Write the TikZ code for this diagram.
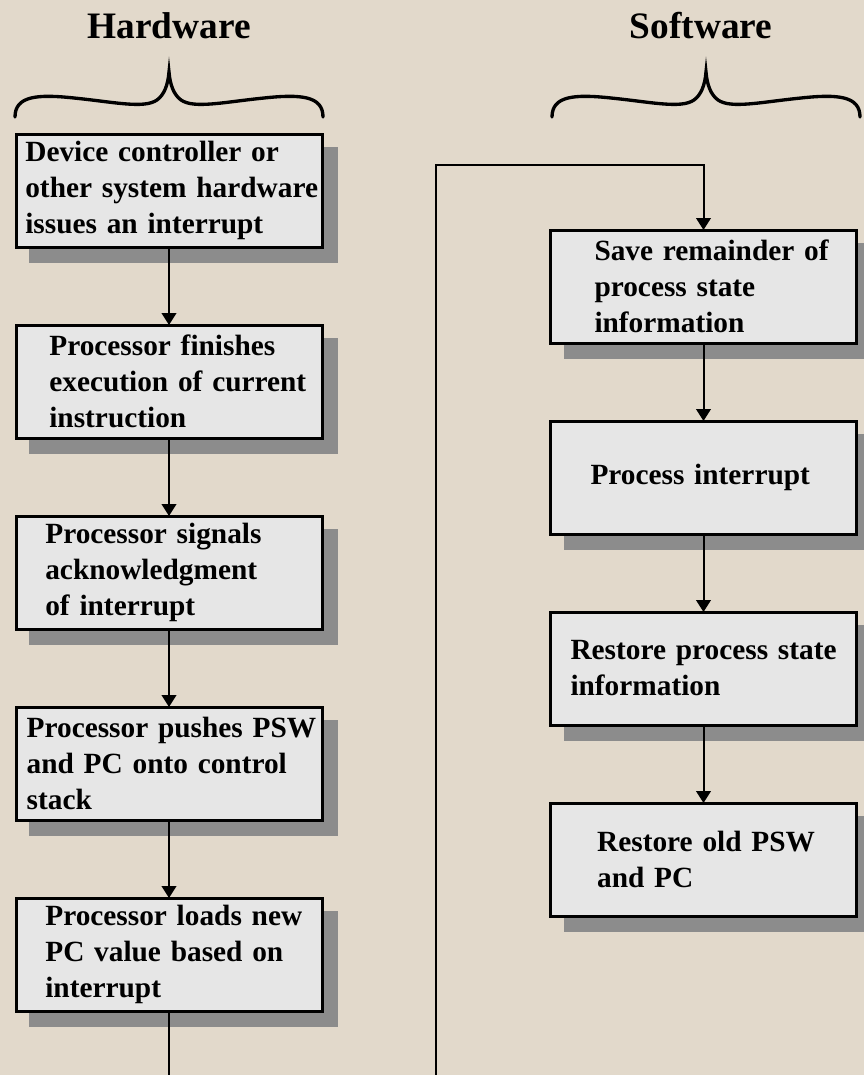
\documentclass[tikz,border=0pt]{standalone}
\usepackage{fontspec}
\setmainfont{Liberation Serif}
\usetikzlibrary{positioning,shadows,arrows.meta}
\definecolor{paper}{RGB}{226,217,203}
\definecolor{boxfill}{RGB}{230,230,230}
\definecolor{shadowgray}{RGB}{140,140,140}
\begin{document}
\begin{tikzpicture}
	[x=0.75pt,y=-0.75pt,
	node distance=58.5pt,
	stepbox/.style={draw,line width=2.25pt,fill=boxfill,outer sep=0pt,inner xsep=0pt,
		minimum height=84.75pt,text width=229.5pt,align=left,
		font=\bfseries\fontsize{22}{27}\selectfont,
		drop shadow={shadow xshift=11pt,shadow yshift=-11pt,fill=shadowgray,draw=shadowgray,opacity=1}},
	lead/.style={execute at begin node={\leftskip=#1\relax}},
	title/.style={font=\bfseries\fontsize{28}{34}\selectfont,anchor=base},
	link/.style={line width=1.5pt,-{Triangle[width=11pt,length=9pt]}},
	curly/.style={line width=2.5pt,line cap=round}]
	\useasboundingbox (0,0) rectangle (864,1075);
	\fill[paper] (0,0) rectangle (864,1075);
	\node[title] (hw) at (169,38) {Hardware};
	\node[title] (sw) at (701,38) {Software};
	\draw[curly,shift={(169,0)}] (-154,117) .. controls (-154,96) and (-132,94) .. (-95,98)
		.. controls (-55,102) and (-25,109) .. (-12,100) .. controls (-5,95) and (-1,85) .. (0,72)
		.. controls (1,85) and (5,95) .. (12,100) .. controls (25,109) and (55,102) .. (95,98)
		.. controls (132,94) and (154,96) .. (154,117);
	\draw[curly,shift={(706,0)}] (-154,117) .. controls (-154,96) and (-132,94) .. (-95,98)
		.. controls (-55,102) and (-25,109) .. (-12,100) .. controls (-5,95) and (-1,85) .. (0,72)
		.. controls (1,85) and (5,95) .. (12,100) .. controls (25,109) and (55,102) .. (95,98)
		.. controls (132,94) and (154,96) .. (154,117);
	\node[stepbox,lead=7pt] (irq) at (169,190.5) {Device controller or\\other system hardware\\issues an interrupt};
	\node[stepbox,lead=25pt,below=of irq] (finish) {Processor finishes\\execution of current\\instruction};
	\node[stepbox,lead=22pt,below=of finish] (ack) {Processor signals\\acknowledgment\\of interrupt};
	\node[stepbox,lead=8pt,below=of ack] (push) {Processor pushes PSW\\and PC onto control\\stack};
	\node[stepbox,lead=22pt,below=of push] (load) {Processor loads new\\PC value based on\\interrupt};
	\node[stepbox,lead=33pt] (save) at (703.5,286.5) {Save remainder of\\process state\\information};
	\node[stepbox,lead=30pt,below=of save] (handle) {Process interrupt};
	\node[stepbox,lead=15pt,below=of handle] (restore) {Restore process state\\information};
	\node[stepbox,lead=35pt,below=of restore] (oldpsw) {Restore old PSW\\and PC};
	\coordinate (hwend) at (169,1075);
	\coordinate (swend) at (436,1075);
	\coordinate (turn) at (436,165);
	\draw[link] (irq) -- (finish);
	\draw[link] (finish) -- (ack);
	\draw[link] (ack) -- (push);
	\draw[link] (push) -- (load);
	\draw[line width=1.5pt] (load) -- (hwend);
	\draw[link] (swend) -- (turn) -| (save);
	\draw[link] (save) -- (handle);
	\draw[link] (handle) -- (restore);
	\draw[link] (restore) -- (oldpsw);
\end{tikzpicture}
\end{document}
